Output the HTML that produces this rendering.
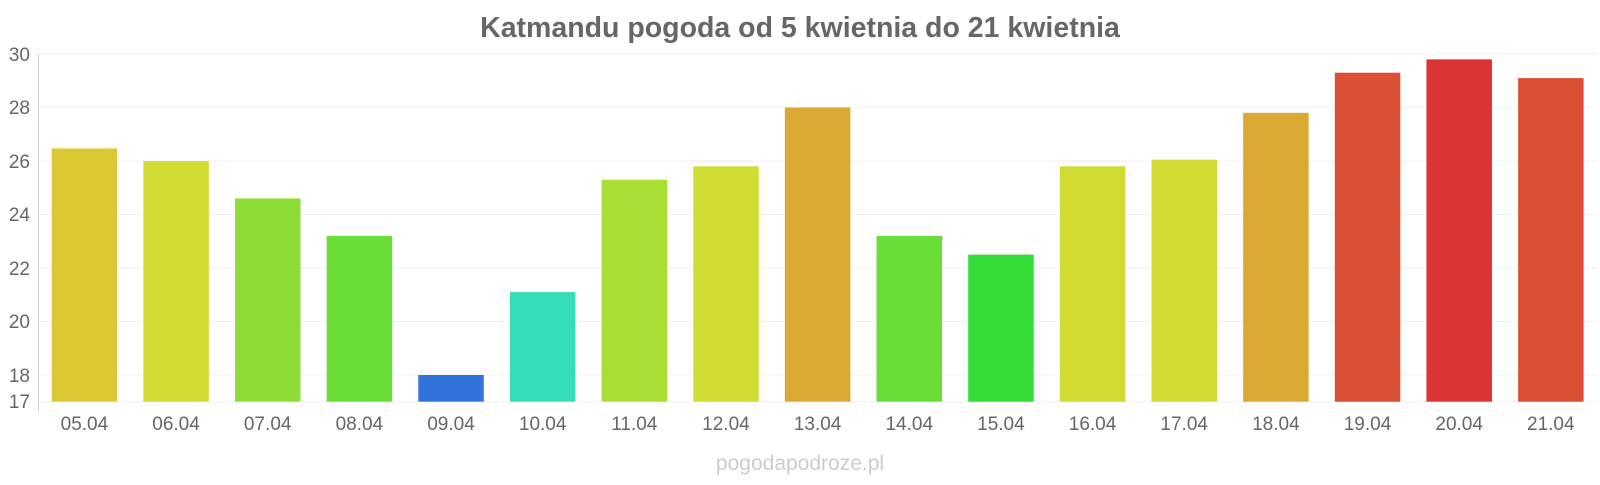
<!DOCTYPE html>
<html><head><meta charset="utf-8"><style>
body{margin:0;background:#fff;}
svg text{font-family:"Liberation Sans",sans-serif;}
</style></head><body>
<svg width="1600" height="480" xmlns="http://www.w3.org/2000/svg">
<text x="800" y="37" text-anchor="middle" font-size="28.5" font-weight="bold" fill="#666">Katmandu pogoda od 5 kwietnia do 21 kwietnia</text>
<g stroke="#f2f2f2" stroke-width="1">
<line x1="38" x2="1597" y1="54" y2="54"/><line x1="38" x2="1597" y1="107.5" y2="107.5"/>
<line x1="38" x2="1597" y1="161" y2="161"/><line x1="38" x2="1597" y1="214.5" y2="214.5"/>
<line x1="38" x2="1597" y1="268" y2="268"/><line x1="38" x2="1597" y1="321.5" y2="321.5"/>
<line x1="38" x2="1597" y1="375" y2="375"/><line x1="38" x2="1597" y1="401.7" y2="401.7"/>
</g>
<line x1="38.5" x2="38.5" y1="54" y2="411" stroke="#ccc"/>
<g font-size="19" fill="#666" text-anchor="end">
<text x="30" y="61">30</text><text x="30" y="114">28</text><text x="30" y="168">26</text>
<text x="30" y="221">24</text><text x="30" y="275">22</text><text x="30" y="328">20</text>
<text x="30" y="382">18</text><text x="30" y="408">17</text>
</g>
<g id="bars"></g>
<g id="labels" font-size="19" fill="#666" text-anchor="middle"></g>
<text x="800" y="470" text-anchor="middle" font-size="21" fill="#ccc">pogodapodroze.pl</text>
<script>
var v=[26.47,26.0,24.6,23.2,18,21.1,25.3,25.8,28,23.2,22.5,25.8,26.05,27.8,29.3,29.8,29.1];
var c=["#dbc832","#d0dc34","#8fdc36","#6ade38","#3374dc","#35ddb9","#aade32","#d0dc34","#dca834","#6ade38","#33dd35","#d0dc34","#d0dc34","#dca834","#db5034","#db3434","#db5034"];
var b=document.getElementById("bars"),l=document.getElementById("labels"),ns="http://www.w3.org/2000/svg";
for(var i=0;i<17;i++){var x=51.7+i*91.65,y=54+(30-v[i])*26.75;
var r=document.createElementNS(ns,"rect");r.setAttribute("x",x);r.setAttribute("y",y);r.setAttribute("width",65.5);r.setAttribute("height",401.7-y);r.setAttribute("fill",c[i]);b.appendChild(r);
var t=document.createElementNS(ns,"text");t.setAttribute("x",x+32.7);t.setAttribute("y",430);t.textContent=(i+5<10?"0":"")+(i+5)+".04";l.appendChild(t);}
</script>
</svg>
</body></html>
